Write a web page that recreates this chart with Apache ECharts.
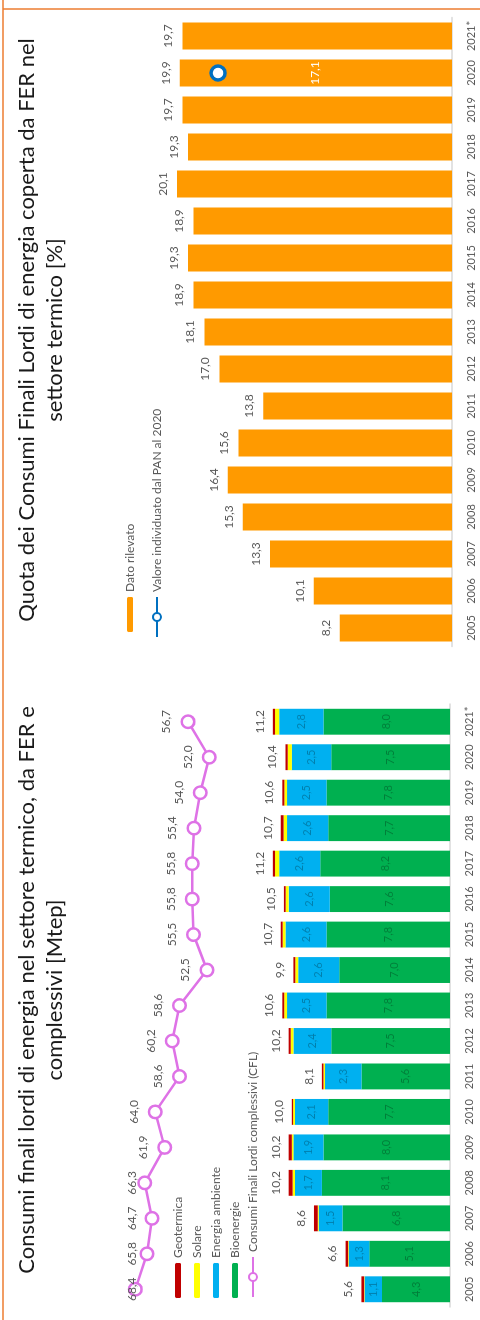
<!DOCTYPE html>
<html>
<head>
<meta charset="utf-8">
<script src="https://cdn.jsdelivr.net/npm/echarts@6/dist/echarts.min.js"></script>
<style>
  html, body { margin: 0; padding: 0; background: #ffffff; }
  #stage { position: relative; width: 480px; height: 1320px; overflow: hidden; background: #ffffff; }
  /* the two panels are laid out landscape and turned a quarter turn */
  #chart {
    position: absolute; left: 0; top: 0;
    width: 1320px; height: 480px;
    transform-origin: 0 0;
    transform: translateY(1320px) rotate(-90deg);
  }
</style>
</head>
<body>
<div id="stage"><div id="chart"></div></div>
<script>
// Categories (years)
const anni = ['2005','2006','2007','2008','2009','2010','2011','2012','2013','2014','2015','2016','2017','2018','2019','2020','2021*'];

// Consumi finali lordi FER nel settore termico, by source [Mtep]
const bioenergie      = [4.3, 5.1, 6.8, 8.1, 8.0, 7.7, 5.6, 7.5, 7.8, 7.0, 7.8, 7.6, 8.2, 7.7, 7.8, 7.5, 8.0];
const energiaAmbiente = [1.1, 1.3, 1.5, 1.7, 1.9, 2.1, 2.3, 2.4, 2.5, 2.6, 2.6, 2.6, 2.6, 2.6, 2.5, 2.5, 2.8];
const solare          = [0.03, 0.04, 0.06, 0.15, 0.10, 0.12, 0.10, 0.17, 0.18, 0.18, 0.18, 0.19, 0.26, 0.22, 0.17, 0.26, 0.26];
const geotermica      = [0.17, 0.16, 0.24, 0.25, 0.20, 0.08, 0.10, 0.13, 0.12, 0.12, 0.12, 0.11, 0.14, 0.18, 0.13, 0.14, 0.14];
const totaliFer       = [5.6, 6.6, 8.6, 10.2, 10.2, 10.0, 8.1, 10.2, 10.6, 9.9, 10.7, 10.5, 11.2, 10.7, 10.6, 10.4, 11.2];

// Consumi Finali Lordi complessivi (CFL) [Mtep]
const cflComplessivi  = [68.4, 65.8, 64.7, 66.3, 61.9, 64.0, 58.6, 60.2, 58.6, 52.5, 55.5, 55.8, 55.8, 55.4, 54.0, 52.0, 56.7];

// Quota FER nel settore termico [%]
const quotaFer        = [8.2, 10.1, 13.3, 15.3, 16.4, 15.6, 13.8, 17.0, 18.1, 18.9, 19.3, 18.9, 20.1, 19.3, 19.7, 19.9, 19.7];
const obiettivoPan    = [null, null, null, null, null, null, null, null, null, null, null, null, null, null, null, 17.1, null];

const FONT = 'Lato';
const GREY = '#595959';
const fmt = v => v.toFixed(1).replace('.', ',');

// labels of the CFL line are kept inside the upper edge of the plot area
const LINE_LABEL_TOP = 126;

const chart = echarts.init(document.getElementById('chart'), null, { width: 1320, height: 480, renderer: 'canvas' });

const catAxis = (gridIndex, showLabels) => ({
  type: 'category', gridIndex, data: anni,
  axisLine: { show: showLabels, lineStyle: { color: '#D9D9D9', width: 1.5 } },
  axisTick: { show: false },
  axisLabel: { show: showLabels, color: GREY, fontSize: 11, fontFamily: FONT, margin: 14, interval: 0 },
  splitLine: { show: false }
});
const valAxis = (gridIndex, max) => ({
  type: 'value', gridIndex, min: 0, max,
  show: false, splitLine: { show: false }
});

const innerLabel = {
  show: true, position: 'inside', color: 'rgba(0,0,0,0.28)', fontSize: 11, fontFamily: FONT,
  formatter: p => fmt(p.value)
};

chart.setOption({
  animation: false,
  backgroundColor: '#ffffff',
  textStyle: { fontFamily: FONT },
  graphic: [
    { type: 'line', shape: { x1: 0, y1: 3, x2: 1320, y2: 3 }, style: { stroke: '#ED7D31', lineWidth: 1.5 } },
    { type: 'line', shape: { x1: 1311, y1: 3, x2: 1311, y2: 480 }, style: { stroke: '#ED7D31', lineWidth: 1.5 } },
    { type: 'text', x: 330, y: 13,
      style: { text: 'Consumi finali lordi di energia nel settore termico, da FER e\ncomplessivi [Mtep]',
               align: 'center', fontSize: 22, lineHeight: 28, fontFamily: FONT, fill: '#1a1a1a' } },
    { type: 'text', x: 990, y: 13,
      style: { text: 'Quota dei Consumi Finali Lordi di energia coperta da FER nel\nsettore termico [%]',
               align: 'center', fontSize: 22, lineHeight: 28, fontFamily: FONT, fill: '#1a1a1a' } }
  ],
  legend: [
    { orient: 'vertical', left: 17, top: 166, itemWidth: 35, itemHeight: 6, itemGap: 5,
      textStyle: { color: GREY, fontSize: 12, lineHeight: 14, fontFamily: FONT },
      data: ['Geotermica', 'Solare', 'Energia ambiente', 'Bioenergie'] },
    { orient: 'vertical', left: 17, top: 241, itemWidth: 40, itemHeight: 10,
      textStyle: { color: GREY, fontSize: 12, lineHeight: 14, fontFamily: FONT },
      data: ['Consumi Finali Lordi complessivi (CFL)'] },
    { orient: 'vertical', left: 683, top: 118, itemWidth: 35, itemHeight: 6,
      textStyle: { color: GREY, fontSize: 12, lineHeight: 14, fontFamily: FONT },
      data: ['Dato rilevato'] },
    { orient: 'vertical', left: 677, top: 145, itemWidth: 40, itemHeight: 10,
      textStyle: { color: GREY, fontSize: 12, lineHeight: 14, fontFamily: FONT },
      data: ['Valore individuato dal PAN al 2020'] }
  ],
  grid: [
    { left: 13, width: 603, top: 102, height: 348 },
    { left: 13, width: 603, top: 105.6, height: 338 },
    { left: 673.5, width: 629, top: 110, height: 342 }
  ],
  xAxis: [catAxis(0, true), catAxis(1, false), catAxis(2, true)],
  yAxis: [valAxis(0, 22), valAxis(1, 75), valAxis(2, 25)],
  series: [
    { name: 'Bioenergie', type: 'bar', stack: 'fer', xAxisIndex: 0, yAxisIndex: 0,
      data: bioenergie, barCategoryGap: '27%', itemStyle: { color: '#00B050' }, label: innerLabel },
    { name: 'Energia ambiente', type: 'bar', stack: 'fer', xAxisIndex: 0, yAxisIndex: 0,
      data: energiaAmbiente, itemStyle: { color: '#00B0F0' }, label: innerLabel },
    { name: 'Solare', type: 'bar', stack: 'fer', xAxisIndex: 0, yAxisIndex: 0,
      data: solare, itemStyle: { color: '#FFFF00' } },
    { name: 'Geotermica', type: 'bar', stack: 'fer', xAxisIndex: 0, yAxisIndex: 0,
      data: geotermica, itemStyle: { color: '#C00000' },
      label: { show: true, position: 'top', distance: 7, color: GREY, fontSize: 12, fontFamily: FONT,
               formatter: p => fmt(totaliFer[p.dataIndex]) } },
    { name: 'Consumi Finali Lordi complessivi (CFL)', type: 'line', xAxisIndex: 1, yAxisIndex: 1,
      data: cflComplessivi, symbol: 'circle', symbolSize: 12.5,
      lineStyle: { color: '#DE72E6', width: 2.5 },
      itemStyle: { color: '#ffffff', borderColor: '#DE72E6', borderWidth: 2.5 },
      label: { show: true, position: 'top', distance: 8, color: GREY, fontSize: 12, fontFamily: FONT,
               formatter: p => fmt(p.value) },
      labelLayout: p => (p.labelRect.y < LINE_LABEL_TOP ? { dy: LINE_LABEL_TOP - p.labelRect.y } : {}) },
    { name: 'Dato rilevato', type: 'bar', xAxisIndex: 2, yAxisIndex: 2,
      data: quotaFer, barCategoryGap: '27%', itemStyle: { color: '#FF9A00' },
      label: { show: true, position: 'top', distance: 8, color: GREY, fontSize: 12, fontFamily: FONT,
               formatter: p => fmt(p.value) } },
    { name: 'Valore individuato dal PAN al 2020', type: 'line', xAxisIndex: 2, yAxisIndex: 2,
      data: obiettivoPan, symbol: 'circle', symbolSize: 14, connectNulls: false,
      lineStyle: { color: '#0070C0', width: 2.5 },
      itemStyle: { color: '#ffffff', borderColor: '#0070C0', borderWidth: 3.5 },
      label: { show: true, position: 'bottom', distance: 82, color: '#ffffff', fontSize: 12, fontFamily: FONT,
               formatter: p => (p.value == null ? '' : fmt(p.value)) },
      z: 5 }
  ]
});
</script>
</body>
</html>
